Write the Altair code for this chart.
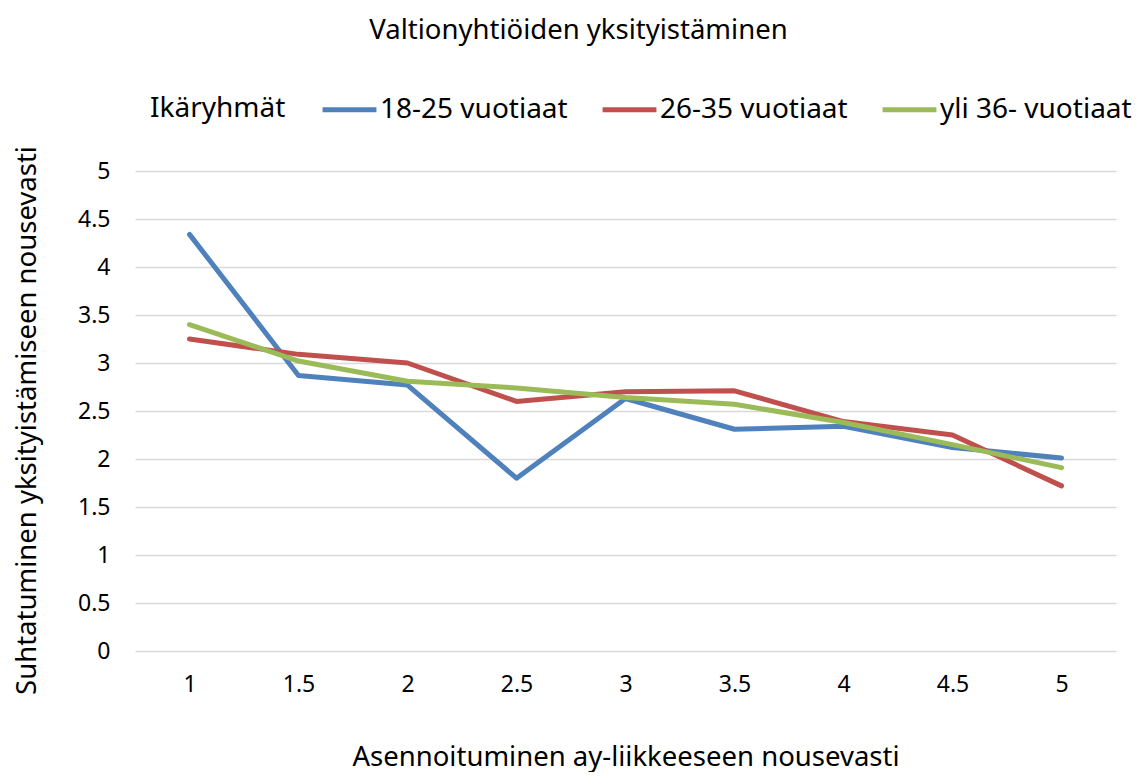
import altair as alt
import pandas as pd

x_labels = ["1", "1.5", "2", "2.5", "3", "3.5", "4", "4.5", "5"]
series_names = ["18-25 vuotiaat", "26-35 vuotiaat", "yli 36- vuotiaat"]
s1 = [4.34, 2.87, 2.77, 1.80, 2.63, 2.31, 2.34, 2.12, 2.01]
s2 = [3.25, 3.09, 3.00, 2.60, 2.70, 2.71, 2.39, 2.25, 1.72]
s3 = [3.40, 3.02, 2.81, 2.74, 2.64, 2.57, 2.38, 2.15, 1.91]
colors = ["#4f81bd", "#c0504d", "#9bbb59"]
y_ticks = [0, 0.5, 1, 1.5, 2, 2.5, 3, 3.5, 4, 4.5, 5]

rows = []
for name, vals in zip(series_names, [s1, s2, s3]):
    for i, (xl, v) in enumerate(zip(x_labels, vals)):
        rows.append({"x": xl, "y": v, "series": name, "order": i})
df = pd.DataFrame(rows)

FONT = "Noto Sans"
TXT = 27.5

chart = alt.Chart(df).mark_line(strokeWidth=5, strokeCap="round", strokeJoin="round").encode(
    x=alt.X("x:O", sort=x_labels,
            scale=alt.Scale(type="point", padding=0.5),
            axis=alt.Axis(title="Asennoituminen ay-liikkeeseen nousevasti", labelAngle=0,
                          domain=False, ticks=False, grid=False, labelPadding=22,
                          titlePadding=47, labelFontSize=23, titleFontSize=TXT,
                          labelColor="#000", titleColor="#000", titleFontWeight="normal",
                          labelFont=FONT, titleFont=FONT)),
    y=alt.Y("y:Q", scale=alt.Scale(domain=[0, 5]),
            axis=alt.Axis(title="Suhtatuminen yksityistämiseen nousevasti",
                          values=y_ticks, labelExpr="datum.value + ''",
                          domain=False, ticks=False, labelPadding=25,
                          gridColor="#d9d9d9", gridWidth=1.5, titleY=249,
                          titlePadding=36, labelFontSize=23, titleFontSize=TXT,
                          labelColor="#000", titleColor="#000", titleFontWeight="normal",
                          labelFont=FONT, titleFont=FONT)),
    color=alt.Color("series:N", sort=series_names,
                    scale=alt.Scale(domain=series_names, range=colors),
                    legend=alt.Legend(title="Ikäryhmät", orient="none", direction="horizontal",
                                      legendX=15, legendY=-91, titleOrient="left",
                                      titleAnchor="middle", titleBaseline="line-top",
                                      titleLineHeight=14, labelBaseline="middle",
                                      symbolType="stroke", symbolStrokeWidth=5,
                                      symbolSize=2900, columnPadding=24, labelOffset=1,
                                      titlePadding=34, labelFontSize=28, titleFontSize=28,
                                      titleFontWeight="normal", labelColor="#000",
                                      titleColor="#000", labelFont=FONT, titleFont=FONT,
                                      labelLimit=400)),
    order="order:Q",
).properties(
    width=981, height=480,
    autosize=alt.AutoSizeParams(type="none"),
    title=alt.TitleParams("Valtionyhtiöiden yksityistäminen", fontSize=TXT, fontWeight="normal",
                          font=FONT, color="#000", anchor="middle", frame="group",
                          dx=-47, offset=36),
    padding={"left": 127, "top": 163, "right": 19, "bottom": 121},
).configure_view(stroke=None)

chart.save("out.html", embed_options={"renderer": "svg", "actions": False})
